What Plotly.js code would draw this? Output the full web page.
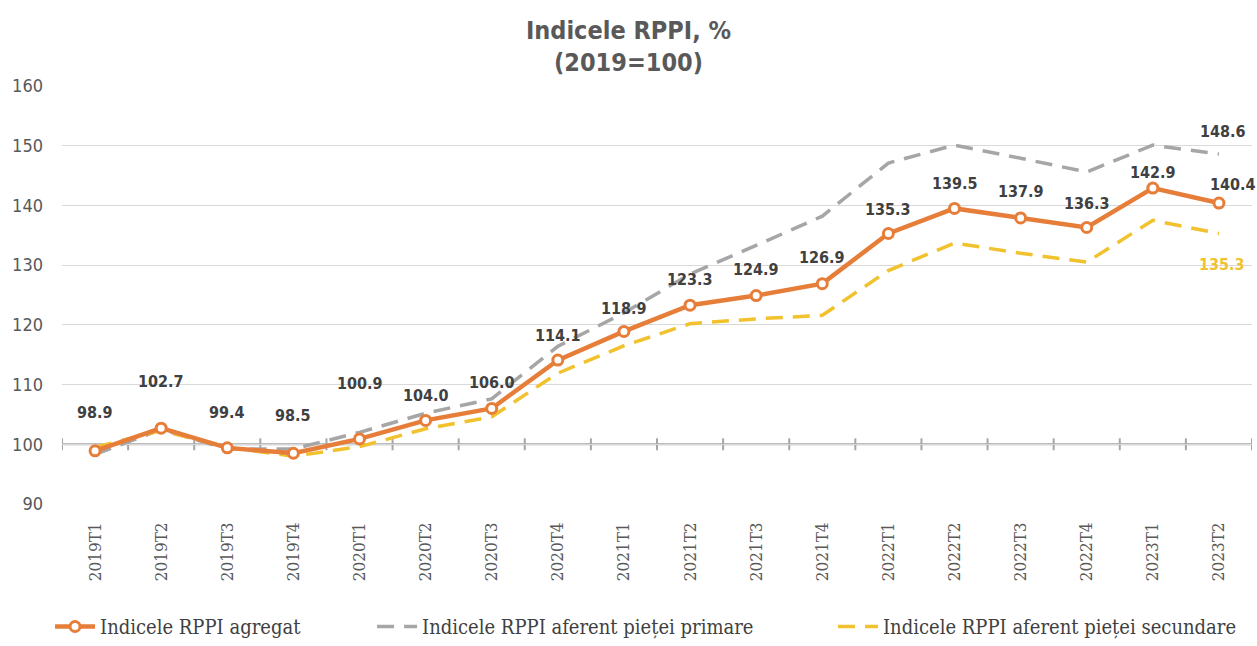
<!DOCTYPE html>
<html>
<head>
<meta charset="utf-8">
<script src="https://cdn.plot.ly/plotly-3.0.1.min.js"></script>
<style>html,body{margin:0;padding:0;background:#fff;}#chart{width:1257px;height:646px;}</style>
</head>
<body>
<div id="chart"></div>
<script>
var categories = ["2019T1","2019T2","2019T3","2019T4","2020T1","2020T2","2020T3","2020T4","2021T1","2021T2","2021T3","2021T4","2022T1","2022T2","2022T3","2022T4","2023T1","2023T2"];
var agregat = [98.9,102.7,99.4,98.5,100.9,104.0,106.0,114.1,118.9,123.3,124.9,126.9,135.3,139.5,137.9,136.3,142.9,140.4];
var primara = [98.3,102.5,99.2,99.2,102.0,105.2,107.6,116.4,122.0,128.5,133.3,138.2,147.1,150.1,147.9,145.6,150.1,148.6];
var secundara = [99.5,102.3,99.5,98.0,99.6,102.6,104.6,111.9,116.5,120.2,121.0,121.6,129.1,133.7,132.0,130.5,137.5,135.3];
var yTicks = [90,100,110,120,130,140,150,160];

var SANS = '"DejaVu Sans Condensed", "DejaVu Sans", sans-serif';
var SERIF = '"DejaVu Serif Condensed", "DejaVu Serif", serif';
var ORANGE = '#E67E3A', GRAY = '#A6A6A6', YELLOW = '#F2C12E';
var labelShift = [38,47,35,38,55,25,26,25,23,26,26,26,24,25,26,24,16,19];

var traces = [
  {x: categories, y: primara, type: 'scatter', mode: 'lines', name: 'Indicele RPPI aferent pieței primare',
   line: {color: GRAY, width: 3.5, dash: '17px,10px'}, legend: 'legend2', hoverinfo: 'y'},
  {x: categories, y: secundara, type: 'scatter', mode: 'lines', name: 'Indicele RPPI aferent pieței secundare',
   line: {color: YELLOW, width: 3.5, dash: '17px,10px'}, legend: 'legend3', hoverinfo: 'y'},
  {x: categories, y: agregat, type: 'scatter', mode: 'lines+markers', name: 'Indicele RPPI agregat',
   line: {color: ORANGE, width: 4.5}, marker: {symbol: 'circle', size: 10, color: '#ffffff', line: {color: ORANGE, width: 3}},
   legend: 'legend', hoverinfo: 'y'}
];

var annotations = [];
agregat.forEach(function(v, i){
  annotations.push({x: categories[i], y: v, xref: 'x', yref: 'y', text: '<b>' + v.toFixed(1) + '</b>',
    showarrow: false, yshift: labelShift[i], xshift: (i === agregat.length-1 ? 14 : 0),
    font: {family: SANS, size: 16, color: '#404040'}});
});
var last = categories.length - 1;
annotations.push({x: categories[last], y: primara[last], xref: 'x', yref: 'y', text: '<b>' + primara[last].toFixed(1) + '</b>',
  showarrow: false, yshift: 23, xshift: 4, font: {family: SANS, size: 16, color: '#404040'}});
annotations.push({x: categories[last], y: secundara[last], xref: 'x', yref: 'y', text: '<b>' + secundara[last].toFixed(1) + '</b>',
  showarrow: false, yshift: -31, xshift: 3, font: {family: SANS, size: 16, color: YELLOW}});

// axis line at 100 with boundary ticks
var shapes = [{type: 'line', xref: 'paper', yref: 'y', x0: 0, x1: 1, y0: 100, y1: 100, line: {color: '#A6A6A6', width: 2}, layer: 'below'}];
for (var b = 0; b <= categories.length; b++) {
  shapes.push({type: 'line', xref: 'x', yref: 'y', x0: b - 0.5, x1: b - 0.5, y0: 99.0, y1: 101.0, line: {color: '#A6A6A6', width: 2}, layer: 'below'});
}

var legendBase = {orientation: 'h', yref: 'container', xref: 'container', yanchor: 'bottom', y: 0, xanchor: 'left',
  bgcolor: 'rgba(0,0,0,0)', font: {family: SERIF, size: 20, color: '#404040'}, itemwidth: 40};
var layout = {
  width: 1257, height: 646,
  margin: {l: 62, r: 5, t: 86, b: 142},
  paper_bgcolor: '#ffffff', plot_bgcolor: '#ffffff',
  title: {text: '<b>Indicele RPPI, %</b><br><b>(2019=100)</b>', x: 0.5, xanchor: 'center', xref: 'container',
    y: 0.94, yanchor: 'middle', yref: 'container',
    font: {family: SANS, size: 25, color: '#595959'}},
  xaxis: {type: 'category', tickangle: -90, showgrid: false, zeroline: false, showline: false, ticks: '',
    ticklabelstandoff: 14, automargin: false,
    tickfont: {family: SERIF, size: 17, color: '#595959'}, range: [-0.5, categories.length - 0.5], fixedrange: true},
  yaxis: {range: [90, 160], tickvals: yTicks, showgrid: true, gridcolor: '#D9D9D9', gridwidth: 1, zeroline: false,
    showline: false, ticks: '', ticklabelstandoff: 18, automargin: false, tickfont: {family: SANS, size: 18, color: '#595959'}, fixedrange: true},
  showlegend: true,
  legend: Object.assign({}, legendBase, {x: 0.0398}),
  legend2: Object.assign({}, legendBase, {x: 0.296}),
  legend3: Object.assign({}, legendBase, {x: 0.6627}),
  annotations: annotations,
  shapes: shapes
};
Plotly.newPlot('chart', traces, layout, {displayModeBar: false, staticPlot: true});
</script>
</body>
</html>
